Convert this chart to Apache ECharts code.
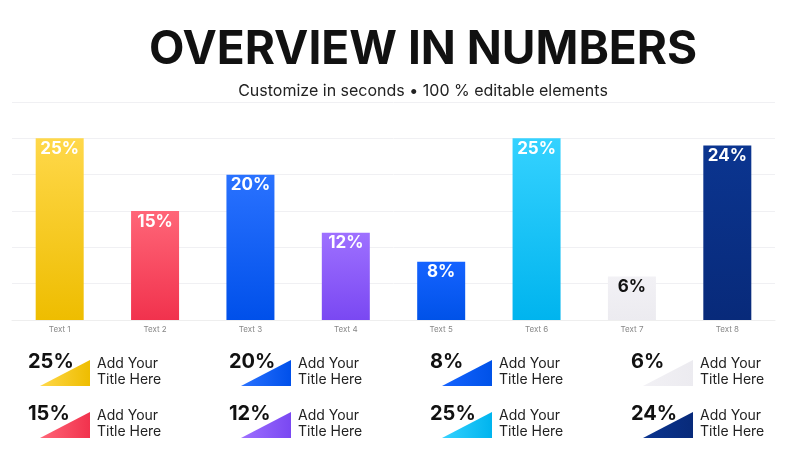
<!DOCTYPE html>
<html>
<head>
<meta charset="utf-8">
<script src="https://cdn.jsdelivr.net/npm/echarts@6/dist/echarts.min.js"></script>
<style>html,body{margin:0;background:#fff}#main{width:800px;height:450px}</style>
</head>
<body>
<div id="main"></div>
<script>
var categories = ['Text 1', 'Text 2', 'Text 3', 'Text 4', 'Text 5', 'Text 6', 'Text 7', 'Text 8'];
var values = [25, 15, 20, 12, 8, 25, 6, 24];
var topColors = ['#FFD84A', '#FF6678', '#2A72FF', '#9E70FF', '#1563FF', '#35D2FF', '#F2F1F5', '#0B3590'];
var bottomColors = ['#EEBD00', '#F1324D', '#0050EA', '#7A48F2', '#0052E8', '#00B4EE', '#ECEBF0', '#082A7A'];
var legendOrder = [0, 1, 2, 3, 4, 5, 6, 7];
var legendTitle = ['Add Your', 'Title Here'];

var chart = echarts.init(document.getElementById('main'));
var font = 'Inter, "Noto Sans", sans-serif';

function grad(i) {
  return new echarts.graphic.LinearGradient(0, 0, 0, 1, [
    { offset: 0, color: topColors[i] }, { offset: 1, color: bottomColors[i] }
  ]);
}

// legend rows under the chart: two per column
var graphics = [];
legendOrder.forEach(function (idx, k) {
  var col = Math.floor(k / 2), row = k % 2;
  var x = 28 + col * 201, y = 352 + row * 52;
  graphics.push({
    type: 'polygon', shape: { points: [[x + 12, y + 34], [x + 62, y + 34], [x + 62, y + 8]] },
    style: { fill: new echarts.graphic.LinearGradient(0, 0, 1, 0, [
      { offset: 0, color: topColors[idx] }, { offset: 1, color: bottomColors[idx] }
    ]) }
  });
  graphics.push({
    type: 'text', left: x, top: y,
    style: { text: values[idx] + '%', font: 'bold 20px ' + font, fill: '#111' }
  });
  graphics.push({
    type: 'text', left: x + 69, top: y + 4,
    style: { text: legendTitle.join('\n'), font: '14px ' + font, fill: '#222', lineHeight: 16 }
  });
});

chart.setOption({
  animation: false,
  title: {
    text: 'OVERVIEW IN NUMBERS',
    subtext: 'Customize in seconds \u2022 100 % editable elements',
    left: 418, textAlign: 'center', top: 22, itemGap: 10,
    textStyle: { fontFamily: font, fontSize: 46, fontWeight: 'bold', color: '#111' },
    subtextStyle: { fontFamily: font, fontSize: 16, color: '#222' }
  },
  grid: { left: 12, right: 25, top: 102, bottom: 130 },
  xAxis: {
    type: 'category', data: categories,
    axisLine: { lineStyle: { color: '#eee' } }, axisTick: { show: false },
    axisLabel: { color: '#888', fontSize: 8, fontFamily: font, margin: 6 }
  },
  yAxis: {
    type: 'value', min: 0, max: 30, interval: 5,
    axisLabel: { show: false },
    splitLine: { lineStyle: { color: '#f0f0f3' } }
  },
  series: [{
    type: 'bar', barWidth: 48,
    data: values.map(function (v, i) {
      return {
        value: v, itemStyle: { color: grad(i) },
        label: { color: i === 6 ? '#111' : '#fff' }
      };
    }),
    label: {
      show: true, position: 'insideTop', distance: 2, formatter: '{c}%',
      fontFamily: font, fontSize: 17, fontWeight: 'bold'
    }
  }],
  graphic: graphics
});
</script>
</body>
</html>
